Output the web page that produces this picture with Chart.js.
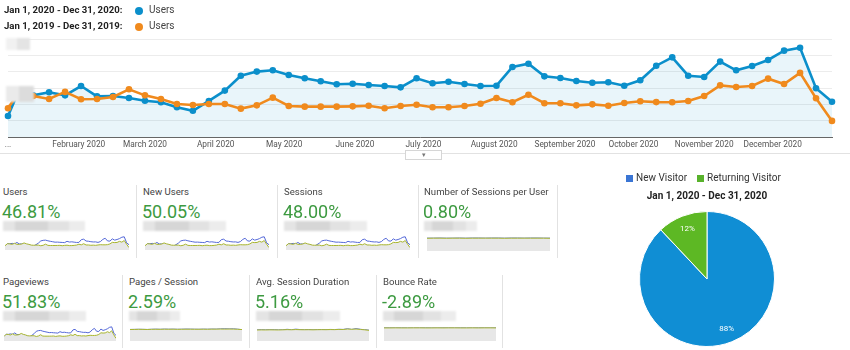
<!DOCTYPE html>
<html>
<head>
<meta charset="utf-8">
<script src="https://cdn.jsdelivr.net/npm/chart.js@4.4.1/dist/chart.umd.min.js"></script>
<style>
  body { margin: 0; background: #fff; font-family: Roboto, Arial, sans-serif; }
  #wrap { position: relative; width: 850px; height: 350px; overflow: hidden; }
  .abs { position: absolute; }
  .lg { font-size: 10px; color: #222; white-space: nowrap; }
  .lg b { font-weight: 700; }
  .dot { position: absolute; width: 8px; height: 8px; border-radius: 50%; }
  .title { position: absolute; font-size: 9.6px; color: #444; white-space: nowrap; }
  .val { position: absolute; font-size: 18px; color: #3d9a41; white-space: nowrap; }
  .blur { position: absolute; filter: blur(1px); }
  .sep { position: absolute; width: 1px; background: #e2e2e2; }
  .sq { position: absolute; width: 7px; height: 7px; }
</style>
</head>
<body>
<div id="wrap">
  <canvas id="mainChart" class="abs" width="850" height="160" style="left:0;top:0"></canvas>

  <!-- legend -->
  <div class="abs lg" style="left:4px;top:4px;font-size:9.6px"><b>Jan 1, 2020 - Dec 31, 2020:</b></div>
  <div class="dot" style="left:135px;top:7px;background:#0b8fcb"></div>
  <div class="abs lg" style="left:149px;top:4px;color:#444">Users</div>
  <div class="abs lg" style="left:4px;top:20px;font-size:9.6px"><b>Jan 1, 2019 - Dec 31, 2019:</b></div>
  <div class="dot" style="left:135px;top:23px;background:#f08a1d"></div>
  <div class="abs lg" style="left:149px;top:20px;color:#444">Users</div>

  <!-- redacted axis labels -->
  <div class="blur" style="left:6px;top:38px;width:24px;height:12px;background:linear-gradient(90deg,#f1f1f1 0 45%,#e4e4e4 45% 100%)"></div>
  <div class="blur" style="left:6px;top:86px;width:28px;height:16px;background:linear-gradient(90deg,#eaeaea 0 45%,#dcdcdc 45% 100%)"></div>

  <div class="abs" style="left:0;top:153px;width:850px;height:1px;background:#e2e2e2"></div>
  <div class="abs" style="left:405px;top:150px;width:35px;height:8px;background:#fff;border:1px solid #d6d6d6;font-size:7px;color:#777;text-align:center;line-height:8px">&#9662;</div>

  <!-- pie -->
  <div class="sq" style="left:626px;top:175px;background:#3a75d4"></div>
  <div class="abs lg" style="left:636px;top:172px;color:#333;font-size:10px">New Visitor</div>
  <div class="sq" style="left:697px;top:175px;background:#58b22b"></div>
  <div class="abs lg" style="left:707px;top:172px;color:#333;font-size:10px">Returning Visitor</div>
  <div class="abs lg" style="left:607px;top:190px;width:200px;text-align:center"><b>Jan 1, 2020 - Dec 31, 2020</b></div>
  <canvas id="pieChart" class="abs" width="136" height="136" style="left:639px;top:211px"></canvas>
</div>

<script>
// weekly users (units of one gridline), 2020 and 2019
const users2020 = [1.30, 2.60, 2.56, 2.75, 2.56, 3.13, 2.50, 2.52, 2.40, 2.23, 2.14, 1.83, 1.62, 2.22,
  2.85, 3.76, 4.01, 4.09, 3.80, 3.60, 3.42, 3.24, 3.27, 3.19, 3.13, 3.05, 3.60, 3.30, 3.39, 3.25,
  3.13, 3.15, 4.29, 4.49, 3.72, 3.62, 3.44, 3.33, 3.36, 3.15, 3.48, 4.37, 4.88, 3.76, 3.68, 4.62,
  4.09, 4.35, 4.72, 5.29, 5.47, 2.99, 2.17];
const users2019 = [1.77, 2.60, 2.52, 2.34, 2.77, 2.32, 2.34, 2.46, 2.93, 2.56, 2.34, 2.03, 1.97, 2.03,
  2.03, 1.75, 1.95, 2.42, 1.91, 1.87, 1.87, 1.87, 1.89, 1.93, 1.77, 1.91, 1.99, 1.83, 1.83, 1.91,
  2.05, 2.40, 2.14, 2.60, 2.08, 2.08, 1.95, 2.01, 1.93, 2.09, 2.20, 2.15, 2.14, 2.22, 2.52, 3.17,
  3.07, 3.13, 3.58, 3.25, 3.93, 2.38, 1.00];
const monthLabels = ['...', 'February 2020', 'March 2020', 'April 2020', 'May 2020', 'June 2020',
  'July 2020', 'August 2020', 'September 2020', 'October 2020', 'November 2020', 'December 2020'];

// metric cards
const metricNames = ['Users', 'New Users', 'Sessions', 'Number of Sessions per User',
  'Pageviews', 'Pages / Session', 'Avg. Session Duration', 'Bounce Rate'];
const metricChanges = ['46.81%', '50.05%', '48.00%', '0.80%', '51.83%', '2.59%', '5.16%', '-2.89%'];

// small flat sparklines
const sessPerUser2020 = [1.10, 1.10, 1.11, 1.10, 1.10, 1.11, 1.10, 1.11, 1.11, 1.10, 1.11, 1.11, 1.10, 1.11, 1.11, 1.10, 1.11, 1.11, 1.10, 1.10];
const sessPerUser2019 = [1.09, 1.10, 1.10, 1.09, 1.10, 1.10, 1.09, 1.10, 1.10, 1.10, 1.10, 1.10, 1.09, 1.10, 1.10, 1.10, 1.10, 1.10, 1.10, 1.09];
const pagesSess2020 = [2.00, 2.01, 2.03, 2.02, 2.00, 2.03, 2.05, 2.03, 2.06, 2.04, 2.05, 2.03, 2.04, 2.06, 2.05, 2.04, 2.03, 2.05, 2.04, 2.06, 2.05, 2.09, 2.11, 2.08, 2.10, 2.04, 1.96];
const pagesSess2019 = [1.99, 2.00, 2.02, 2.01, 1.99, 2.02, 2.03, 2.02, 2.04, 2.03, 2.04, 2.02, 2.03, 2.04, 2.04, 2.03, 2.03, 2.04, 2.03, 2.05, 2.05, 2.07, 2.06, 2.07, 2.06, 2.03, 1.98];
const duration2020 = [1.70, 1.72, 1.71, 1.74, 1.72, 1.70, 1.73, 1.80, 1.74, 1.82, 1.76, 1.74, 1.76, 1.73, 1.75, 1.77, 1.75, 1.78, 1.76, 1.80, 1.78, 1.88, 1.78, 1.90, 1.80, 1.74, 1.66];
const duration2019 = [1.69, 1.71, 1.70, 1.72, 1.71, 1.70, 1.72, 1.75, 1.73, 1.76, 1.74, 1.73, 1.74, 1.72, 1.74, 1.75, 1.74, 1.76, 1.75, 1.78, 1.77, 1.84, 1.80, 1.84, 1.78, 1.72, 1.64];
const bounce2020 = [2.00, 2.00, 2.01, 2.00, 1.99, 2.00, 2.01, 2.00, 1.99, 2.00, 2.00, 2.01, 2.00, 2.00, 1.99, 2.00, 2.00, 2.01, 2.00, 2.00];
const bounce2019 = [2.01, 2.01, 2.02, 2.01, 2.01, 2.02, 2.02, 2.01, 2.01, 2.02, 2.01, 2.02, 2.02, 2.01, 2.01, 2.02, 2.01, 2.02, 2.02, 2.01];

const visitorTypes = ['New Visitor', 'Returning Visitor'];
const visitorShares = [88, 12];

const BLUE = '#0b8fcb', ORANGE = '#f08a1d';

// day of year for each weekly point: Jan 1, then Sundays starting Jan 5
const dayOf = d => Math.round((d - new Date(2020, 0, 1)) / 86400000);
const pointDays = users2020.map((v, i) => i === 0 ? 0 : dayOf(new Date(2020, 0, 5 + 7 * (i - 1))));
const monthDays = monthLabels.map((l, m) => dayOf(new Date(2020, m, 1)));

new Chart(document.getElementById('mainChart'), {
  type: 'line',
  data: {
    datasets: [{
      data: users2019.map((v, i) => ({ x: pointDays[i], y: v })),
      borderColor: ORANGE, backgroundColor: ORANGE, borderWidth: 2.6,
      pointRadius: 3.3, pointBorderWidth: 0, fill: false, order: 0, clip: 6
    }, {
      data: users2020.map((v, i) => ({ x: pointDays[i], y: v })),
      borderColor: BLUE, pointBackgroundColor: BLUE, backgroundColor: 'rgba(11,143,203,0.09)',
      borderWidth: 2.6, pointRadius: 3.3, pointBorderWidth: 0, fill: 'origin', order: 1, clip: 6
    }]
  },
  options: {
    responsive: false,
    animation: false,
    layout: { padding: { left: 8, right: 18, top: 39, bottom: 0 } },
    plugins: { legend: { display: false }, tooltip: { enabled: false } },
    scales: {
      x: {
        type: 'linear', min: 0, max: pointDays[pointDays.length - 1],
        afterBuildTicks: s => { s.ticks = monthDays.map(v => ({ value: v })); },
        afterFit: s => { s.height = 22.7; },
        ticks: {
          autoSkip: false, maxRotation: 0, padding: 3, color: '#555',
          font: { family: 'Roboto', size: 8.3 },
          callback: (v, i) => monthLabels[i]
        },
        grid: { display: false, drawTicks: false },
        border: { color: '#666', width: 1 }
      },
      y: {
        min: 0, max: 6,
        afterFit: s => { s.width = 0; },
        ticks: { display: false, stepSize: 1 },
        grid: { color: '#ececec', drawTicks: false },
        border: { display: false }
      }
    }
  }
});

// metric cards
const wrap = document.getElementById('wrap');
const cardX = [3, 143, 284, 424, 3, 129, 256, 383];
const sepX = [136, 277, 418, 557, 122, 249, 376, 502];
const blurW = [82, 83, 83, 53, 83, 51, 84, 73];
const sparks = [
  [users2020, users2019], [users2020, users2019], [users2020, users2019], [sessPerUser2020, sessPerUser2019],
  [users2020, users2019], [pagesSess2020, pagesSess2019], [duration2020, duration2019], [bounce2020, bounce2019]
];
const sparkBox = [
  [5, 236, 124, 14], [145, 236, 124, 14], [286, 236, 124, 14], [427, 237, 123, 14],
  [4, 326, 112, 15], [130, 328, 112, 13], [257, 328, 112, 13], [384, 327, 112, 14]
];
const sparkMax = [5.8, 5.8, 5.8, 1.2, 5.8, 2.25, 2.0, 2.15];

metricNames.forEach((name, i) => {
  const top = i < 4 ? 186 : 276;
  const t = document.createElement('div');
  t.className = 'title'; t.style.left = cardX[i] + 'px'; t.style.top = top + 'px';
  t.textContent = name; wrap.appendChild(t);
  const v = document.createElement('div');
  v.className = 'val'; v.style.left = (cardX[i] - 1) + 'px'; v.style.top = (top + 15) + 'px';
  v.textContent = metricChanges[i]; wrap.appendChild(v);
  const b = document.createElement('div');
  b.className = 'blur'; b.style.left = cardX[i] + 'px'; b.style.top = (top + 35) + 'px';
  b.style.width = blurW[i] + 'px'; b.style.height = '10px';
  b.style.background = 'linear-gradient(90deg,#e4e4e4 0 15%,#d6d6d6 15% 55%,#e2e2e2 55% 80%,#ececec 80%)';
  wrap.appendChild(b);
  const s = document.createElement('div');
  s.className = 'sep'; s.style.left = sepX[i] + 'px'; s.style.top = (top - 1) + 'px'; s.style.height = '73px';
  wrap.appendChild(s);

  const c = document.createElement('canvas');
  const [x, y, w, h] = sparkBox[i];
  c.width = w; c.height = h; c.className = 'abs';
  c.style.left = x + 'px'; c.style.top = y + 'px';
  wrap.appendChild(c);
  const [cur, prev] = sparks[i];
  new Chart(c, {
    type: 'line',
    data: {
      labels: cur.map((_, k) => k),
      datasets: [
        { data: cur, borderColor: '#5468d8', borderWidth: 1, pointRadius: 0, fill: false, order: 1 },
        { data: prev, borderColor: '#a8b52e', borderWidth: 1, pointRadius: 0, fill: 'origin', backgroundColor: '#e7e7e7', order: 0 }
      ]
    },
    options: {
      responsive: false, animation: false,
      plugins: { legend: { display: false }, tooltip: { enabled: false } },
      layout: { padding: 0 },
      scales: { x: { display: false }, y: { display: false, min: 0, max: sparkMax[i] } }
    }
  });
});

// pie with percentage labels
const pieLabels = {
  id: 'pieLabels',
  afterDatasetsDraw(chart) {
    const ctx = chart.ctx;
    chart.getDatasetMeta(0).data.forEach((arc, i) => {
      const p = arc.getProps(['x', 'y', 'startAngle', 'endAngle', 'outerRadius']);
      const a = (p.startAngle + p.endAngle) / 2;
      const r = p.outerRadius * 0.79;
      ctx.save();
      ctx.fillStyle = '#fff';
      ctx.font = '8px Roboto';
      ctx.textAlign = 'center';
      ctx.textBaseline = 'middle';
      ctx.fillText(visitorShares[i] + '%', p.x + Math.cos(a) * r, p.y + Math.sin(a) * r);
      ctx.restore();
    });
  }
};

new Chart(document.getElementById('pieChart'), {
  type: 'pie',
  data: {
    labels: visitorTypes,
    datasets: [{ data: visitorShares, backgroundColor: ['#108ed4', '#5db824'], borderColor: '#fff', borderWidth: 1 }]
  },
  options: {
    responsive: false, animation: false,
    plugins: { legend: { display: false }, tooltip: { enabled: false } }
  },
  plugins: [pieLabels]
});
</script>
</body>
</html>
